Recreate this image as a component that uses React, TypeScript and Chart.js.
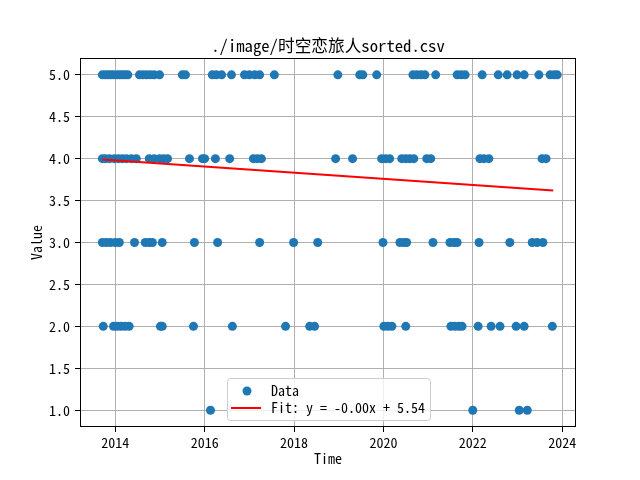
import { useEffect, useRef } from 'react';
import { Chart, registerables } from 'chart.js';

Chart.register(...registerables);

// rating value -> dates (fractional years) at which it occurs
const rating5 = [
  2013.71, 2013.78, 2013.84, 2013.9, 2013.96, 2014.04, 2014.1, 2014.16, 2014.22, 2014.28,
  2014.54, 2014.62, 2014.7, 2014.78, 2014.87, 2014.99, 2015.5, 2015.57, 2016.17, 2016.26,
  2016.38, 2016.6, 2016.89, 2017.0, 2017.12, 2017.23, 2017.56, 2018.98, 2019.47, 2019.54,
  2019.85, 2020.66, 2020.75, 2020.84, 2020.93, 2021.17, 2021.65, 2021.74, 2021.83, 2022.21,
  2022.57, 2022.77, 2022.99, 2023.15, 2023.48, 2023.73, 2023.82, 2023.89,
];
const rating4 = [
  2013.71, 2013.78, 2013.87, 2013.98, 2014.07, 2014.16, 2014.25, 2014.36, 2014.47, 2014.76,
  2014.87, 2014.99, 2015.08, 2015.17, 2015.66, 2015.95, 2016.0, 2016.24, 2016.56, 2017.09,
  2017.18, 2017.27, 2018.93, 2019.31, 2019.96, 2020.05, 2020.14, 2020.41, 2020.5, 2020.59,
  2020.68, 2020.97, 2021.06, 2022.16, 2022.25, 2022.36, 2023.55, 2023.64,
];
const rating3 = [
  2013.71, 2013.8, 2013.89, 2014.0, 2014.09, 2014.43, 2014.67, 2014.76, 2014.83, 2015.05,
  2015.77, 2016.29, 2017.23, 2017.99, 2018.53, 2019.99, 2020.37, 2020.46, 2020.52, 2021.11,
  2021.49, 2021.58, 2021.65, 2022.14, 2022.83, 2023.33, 2023.44, 2023.57,
];
const rating2 = [
  2013.73, 2013.96, 2014.04, 2014.13, 2014.22, 2014.31, 2015.01, 2015.05, 2015.75, 2016.62,
  2017.81, 2018.35, 2018.46, 2020.01, 2020.1, 2020.19, 2020.5, 2021.51, 2021.6, 2021.69,
  2021.76, 2022.12, 2022.41, 2022.61, 2022.97, 2023.15, 2023.78,
];
const rating1 = [2016.13, 2022.0, 2023.04, 2023.22];

const fitX = [2013.71, 2023.8];
const fitY = [3.99, 3.62];

const xTicks = [2014, 2016, 2018, 2020, 2022, 2024];
const yTicks = [1.0, 1.5, 2.0, 2.5, 3.0, 3.5, 4.0, 4.5, 5.0];
const xRange = [2013.21, 2024.31];
const yRange = [0.8, 5.2];

const chartTitle = './image/时空恋旅人sorted.csv';
const dataLabel = 'Data';
const fitLabel = 'Fit: y = -0.00x + 5.54';

const FONT = "'Noto Sans Mono CJK SC', 'Noto Sans CJK SC', sans-serif";
const BLUE = '#1f77b4';

// matplotlib-style box around the axes
const framePlugin = {
  id: 'frame',
  afterDatasetsDraw(chart: any) {
    const { ctx, chartArea: a } = chart;
    ctx.save();
    ctx.strokeStyle = '#000';
    ctx.lineWidth = 1;
    ctx.strokeRect(Math.round(a.left) + 0.5, Math.round(a.top) + 0.5, Math.round(a.right - a.left) - 1, Math.round(a.bottom - a.top) - 1);
    ctx.restore();
  },
};

// legend floating inside the plot ("best" location)
const legendPlugin = {
  id: 'floatLegend',
  afterDraw(chart: any) {
    const { ctx, chartArea: a } = chart;
    const left = a.left + 147;
    const top = a.bottom - 49;
    const w = 203;
    const h = 42;
    ctx.save();
    ctx.beginPath();
    ctx.roundRect(left + 0.5, top + 0.5, w, h, 3);
    ctx.fillStyle = 'rgba(255,255,255,0.8)';
    ctx.fill();
    ctx.strokeStyle = '#cccccc';
    ctx.lineWidth = 1;
    ctx.stroke();

    ctx.beginPath();
    ctx.arc(left + 20, top + 13, 4.5, 0, Math.PI * 2);
    ctx.fillStyle = BLUE;
    ctx.fill();

    ctx.beginPath();
    ctx.moveTo(left + 4, top + 30);
    ctx.lineTo(left + 34, top + 30);
    ctx.strokeStyle = '#ff0000';
    ctx.lineWidth = 2;
    ctx.stroke();

    ctx.fillStyle = '#000';
    ctx.font = `14px ${FONT}`;
    ctx.textBaseline = 'middle';
    ctx.textAlign = 'left';
    ctx.fillText(dataLabel, left + 44, top + 13);
    ctx.fillText(fitLabel, left + 44, top + 30);
    ctx.restore();
  },
};

export default function App() {
  const canvasRef = useRef<HTMLCanvasElement>(null);

  useEffect(() => {
    document.body.style.margin = '0';
    if (!canvasRef.current) return;

    const points = [
      ...rating5.map((x) => ({ x, y: 5 })),
      ...rating4.map((x) => ({ x, y: 4 })),
      ...rating3.map((x) => ({ x, y: 3 })),
      ...rating2.map((x) => ({ x, y: 2 })),
      ...rating1.map((x) => ({ x, y: 1 })),
    ];

    const chart = new Chart(canvasRef.current, {
      type: 'scatter',
      data: {
        datasets: [
          {
            label: fitLabel,
            data: fitX.map((x, i) => ({ x, y: fitY[i] })),
            showLine: true,
            borderColor: '#ff0000',
            borderWidth: 2,
            pointRadius: 0,
            order: 0,
          },
          {
            label: dataLabel,
            data: points,
            backgroundColor: BLUE,
            borderWidth: 0,
            pointRadius: 4.5,
            order: 1,
          },
        ],
      },
      options: {
        animation: false,
        responsive: false,
        devicePixelRatio: 1,
        layout: { padding: { left: 0, right: 64, top: 0, bottom: 0 } },
        plugins: {
          legend: { display: false },
          tooltip: { enabled: false },
          title: {
            display: true,
            text: chartTitle,
            fullSize: false,
            color: '#000',
            font: { family: FONT, size: 16.7, weight: 'normal' },
            padding: { top: 36, bottom: 2 },
          },
        },
        scales: {
          x: {
            type: 'linear',
            min: xRange[0],
            max: xRange[1],
            afterBuildTicks: (s: any) => { s.ticks = xTicks.map((value) => ({ value })); },
            afterFit: (s: any) => { s.height = 53; },
            ticks: {
              callback: (v: any) => String(v),
              color: '#000',
              font: { family: FONT, size: 14 },
              padding: 2,
              maxRotation: 0,
              autoSkip: false,
            },
            grid: { color: '#b0b0b0', tickColor: '#000', tickLength: 5, lineWidth: 1 },
            border: { display: false },
            title: {
              display: true,
              text: 'Time',
              color: '#000',
              font: { family: FONT, size: 14 },
              padding: { top: 0, bottom: 13 },
            },
          },
          y: {
            type: 'linear',
            min: yRange[0],
            max: yRange[1],
            afterBuildTicks: (s: any) => { s.ticks = yTicks.map((value) => ({ value })); },
            afterFit: (s: any) => { s.width = 80; },
            ticks: {
              callback: (v: any) => Number(v).toFixed(1),
              color: '#000',
              font: { family: FONT, size: 14 },
              padding: 5,
              autoSkip: false,
            },
            grid: { color: '#b0b0b0', tickColor: '#000', tickLength: 5, lineWidth: 1 },
            border: { display: false },
            title: {
              display: true,
              text: 'Value',
              color: '#000',
              font: { family: FONT, size: 14 },
              padding: { top: 28, bottom: 0 },
            },
          },
        },
      },
      plugins: [framePlugin, legendPlugin],
    });

    return () => { chart.destroy(); };
  }, []);

  return (
    <div style={{ width: 640, height: 480, background: '#fff' }}>
      <canvas ref={canvasRef} width={640} height={480} />
    </div>
  );
}
